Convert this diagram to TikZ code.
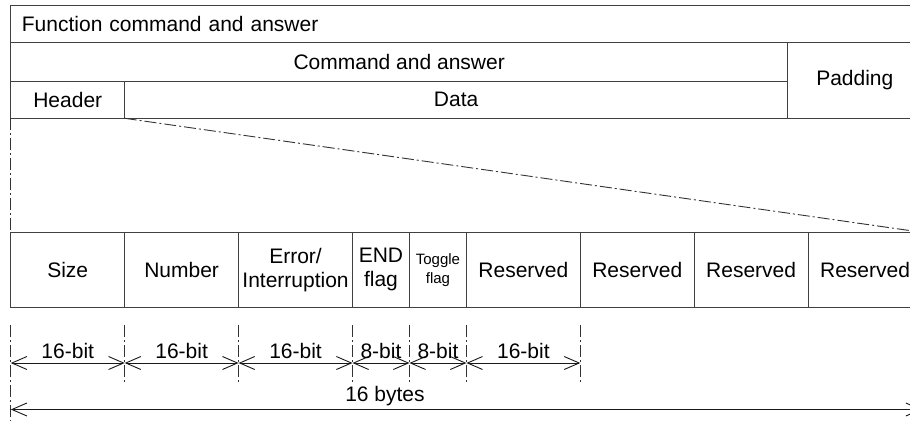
\documentclass[tikz,border=0pt]{standalone}
\usepackage{fontspec}
\setmainfont{Liberation Sans}
\usetikzlibrary{arrows.meta}
\begin{document}
\begin{tikzpicture}[x=1pt,y=-1pt,
  cell/.style={draw=black!75, line width=1pt, inner sep=0pt, outer sep=0pt, align=center,
    font=\fontsize{21}{24}\selectfont},
  lbl/.style={inner sep=0pt, font=\fontsize{21}{24}\selectfont},
  dashdot/.style={draw=black!80, line width=0.9pt, dash pattern=on 12pt off 3pt on 2pt off 3pt},
  dim/.style={draw=black!90, line width=0.9pt,
    {Straight Barb[length=15pt,width=13pt]}-{Straight Barb[length=15pt,width=13pt]}}]
\useasboundingbox (0,0) rectangle (910,421);
\clip (0,0) rectangle (910,421);
% top table
\node[cell, minimum width=911.2pt, minimum height=37.7pt, text width=889pt, inner xsep=11.1pt, align=left] (fca) at (466.4,23.85) {Function command and answer};
\node[cell, minimum width=776.8pt, minimum height=38.3pt] (cmd) at (399.2,61.85) {Command and answer};
\node[cell, minimum width=134.4pt, minimum height=75.6pt] (pad) at (854.8,80.5) {Padding};
\node[cell, minimum width=113.9pt, minimum height=37.3pt] (hdr) at (67.75,99.65) {Header};
\node[cell, minimum width=662.9pt, minimum height=37.3pt] (data) at (456.15,99.65) {Data};
% lower table
\node[cell, minimum width=113.9pt, minimum height=74.7pt] (c1) at (67.75,269.65) {Size};
\node[cell, minimum width=113.9pt, minimum height=74.7pt] (c2) at (181.65,269.65) {Number};
\node[cell, minimum width=113.9pt, minimum height=74.7pt] (c3) at (295.55,269.65) {Error/\\Interruption};
\node[cell, minimum width=56.95pt, minimum height=74.7pt] (c4) at (380.975,269.65) {END\\flag};
\node[cell, minimum width=56.95pt, minimum height=74.7pt, font=\fontsize{15}{19}\selectfont] (c5) at (437.925,269.65) {Toggle\\flag};
\node[cell, minimum width=113.9pt, minimum height=74.7pt] (c6) at (523.35,269.65) {Reserved};
\node[cell, minimum width=113.9pt, minimum height=74.7pt] (c7) at (637.25,269.65) {Reserved};
\node[cell, minimum width=113.9pt, minimum height=74.7pt] (c8) at (751.15,269.65) {Reserved};
\node[cell, minimum width=113.9pt, minimum height=74.7pt] (c9) at (865.05,269.65) {Reserved};
% zoom lines
\draw[dashdot] (data.south west) -- (c9.north east);
\draw[dashdot] (hdr.south west) -- (c1.north west);
% extension lines
\foreach \n/\c in {e1/c1.south east, e2/c2.south east, e3/c3.south east, e4/c4.south east, e5/c5.south east, e6/c6.south east}{
  \coordinate (\n t) at (\c |- 0,325);
  \coordinate (\n b) at (\c |- 0,382);
  \coordinate (\n) at (\c |- 0,363);
  \draw[dashdot] (\n t) -- (\n b);
}
\coordinate (e0t) at (c1.south west |- 0,325);
\coordinate (e0b) at (c1.south west |- 0,421);
\coordinate (e0) at (c1.south west |- 0,363);
\coordinate (f0) at (c1.south west |- 0,409.5);
\coordinate (f1) at (c9.south east |- 0,409.5);
\draw[dashdot] (e0t) -- (e0b);
% dimension arrows
\draw[dim] (e0) -- node[lbl, pos=0.5, yshift=12pt] (t1) {16-bit} (e1);
\draw[dim] (e1) -- node[lbl, pos=0.5, yshift=12pt] (t2) {16-bit} (e2);
\draw[dim] (e2) -- node[lbl, pos=0.5, yshift=12pt] (t3) {16-bit} (e3);
\draw[dim] (e3) -- node[lbl, pos=0.5, yshift=12pt] (t4) {8-bit} (e4);
\draw[dim] (e4) -- node[lbl, pos=0.5, yshift=12pt] (t5) {8-bit} (e5);
\draw[dim] (e5) -- node[lbl, pos=0.5, yshift=12pt] (t6) {16-bit} (e6);
\draw[dim] (f0) -- (f1);
\node[lbl] (tb) at (385,396) {16 bytes};
\end{tikzpicture}
\end{document}
